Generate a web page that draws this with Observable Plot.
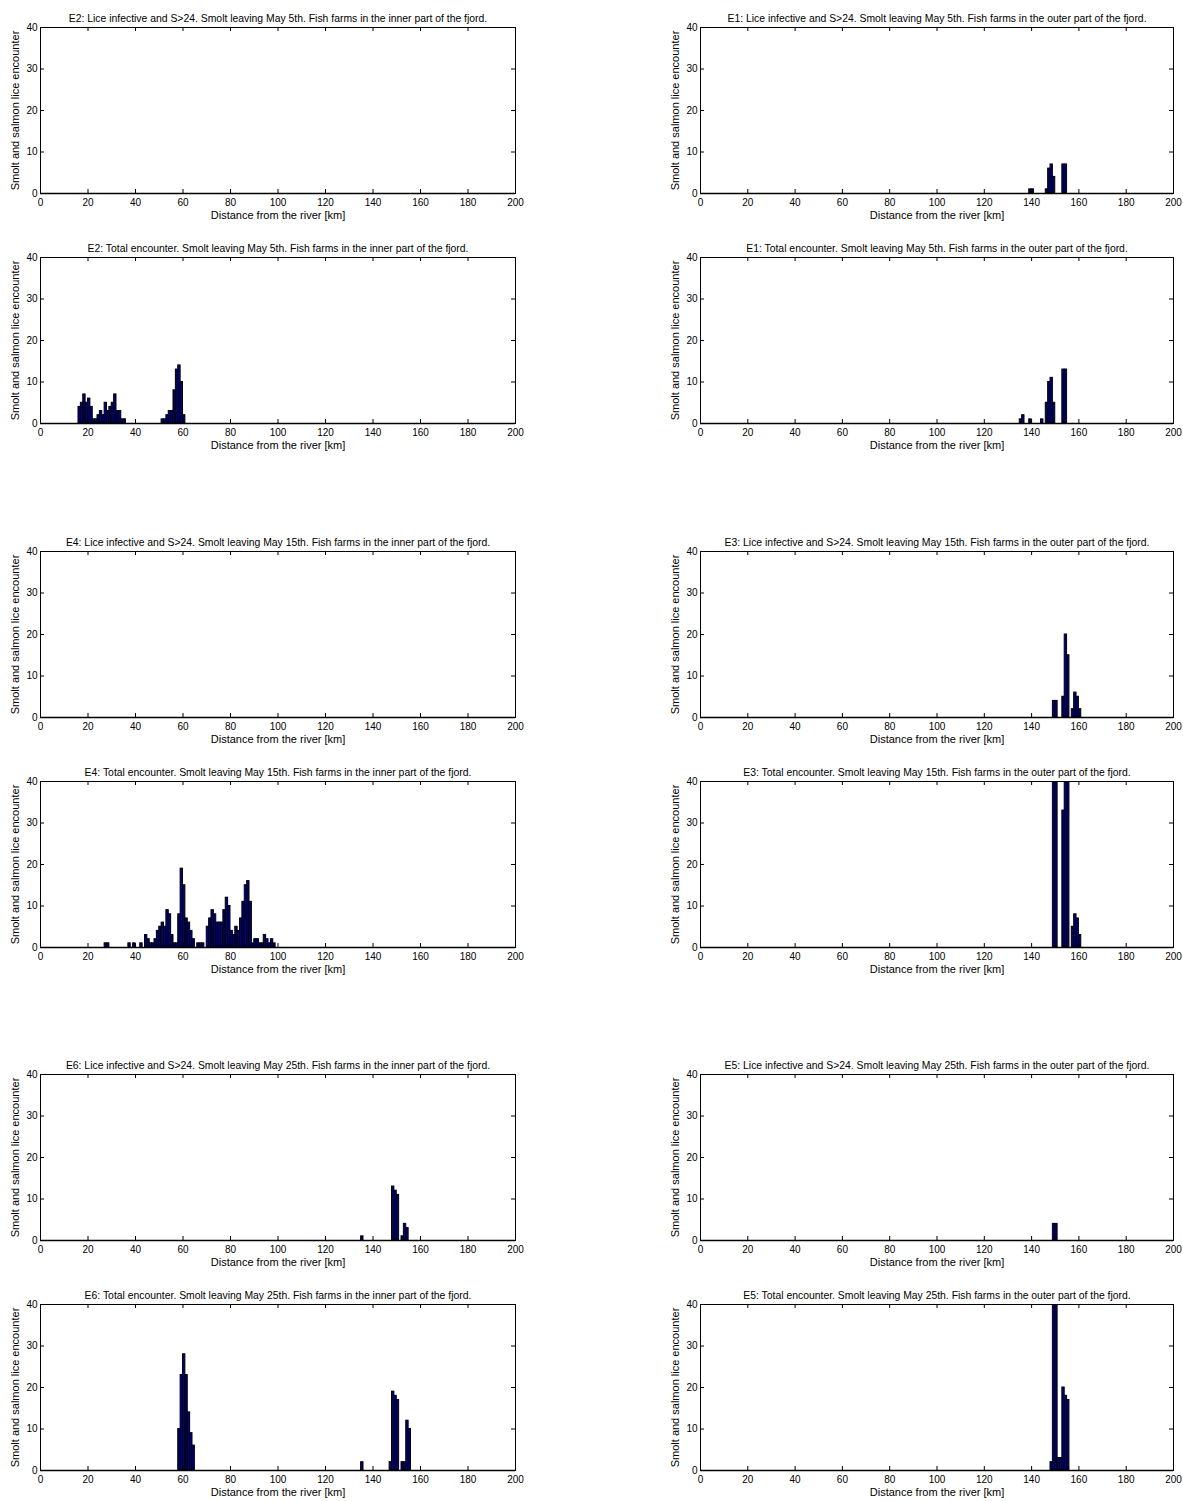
<!DOCTYPE html>
<html>
<head>
<meta charset="utf-8">
<script src="https://cdn.jsdelivr.net/npm/d3@7"></script>
<script src="https://cdn.jsdelivr.net/npm/@observablehq/plot@0.6"></script>
<style>
  body { margin: 0; background: #fff; }
  #root { position: relative; width: 1183px; height: 1501px; font-family: "Liberation Sans", Arial, sans-serif; }
  .panel { position: absolute; }
</style>
</head>
<body>
<div id="root"></div>
<script>
// ---- axis ticks and labels ----
const xTicks = [0, 20, 40, 60, 80, 100, 120, 140, 160, 180, 200];
const yTicks = [0, 10, 20, 30, 40];
const xLabel = "Distance from the river [km]";
const yLabel = "Smolt and salmon lice encounter";

// ---- titles ----
const titles = [
  "E2: Lice infective and S>24. Smolt leaving May 5th. Fish farms in the inner part of the fjord.",
  "E1: Lice infective and S>24. Smolt leaving May 5th. Fish farms in the outer part of the fjord.",
  "E2: Total encounter. Smolt leaving May 5th. Fish farms in the inner part of the fjord.",
  "E1: Total encounter. Smolt leaving May 5th. Fish farms in the outer part of the fjord.",
  "E4: Lice infective and S>24. Smolt leaving May 15th. Fish farms in the inner part of the fjord.",
  "E3: Lice infective and S>24. Smolt leaving May 15th. Fish farms in the outer part of the fjord.",
  "E4: Total encounter. Smolt leaving May 15th. Fish farms in the inner part of the fjord.",
  "E3: Total encounter. Smolt leaving May 15th. Fish farms in the outer part of the fjord.",
  "E6: Lice infective and S>24. Smolt leaving May 25th. Fish farms in the inner part of the fjord.",
  "E5: Lice infective and S>24. Smolt leaving May 25th. Fish farms in the outer part of the fjord.",
  "E6: Total encounter. Smolt leaving May 25th. Fish farms in the inner part of the fjord.",
  "E5: Total encounter. Smolt leaving May 25th. Fish farms in the outer part of the fjord."
];

// ---- data: bin start (km) and encounter count per 1 km bin ----
const e2LiceKm = [];
const e2LiceVal = [];

const e1LiceKm  = [139, 140, 146, 147, 148, 149, 153, 154];
const e1LiceVal = [1,   1,   1,   6,   7,   4,   7,   7];

const e2TotalKm  = [16, 17, 18, 19, 20, 21, 22, 23, 24, 25, 26, 27, 28, 29, 30, 31, 32, 33, 34, 35,
                    51, 52, 53, 54, 55, 56, 57, 58, 59, 60];
const e2TotalVal = [4,  5,  7,  5,  6,  4,  1,  1,  2,  3,  2,  5,  3,  4,  5,  7,  3,  3,  1,  1,
                    1,  1,  2,  3,  3,  8,  13, 14, 10, 2];

const e1TotalKm  = [135, 136, 139, 144, 146, 147, 148, 149, 153, 154];
const e1TotalVal = [1,   2,   1,   1,   5,   10,  11,  5,   13,  13];

const e4LiceKm = [];
const e4LiceVal = [];

const e3LiceKm  = [149, 150, 153, 154, 155, 157, 158, 159, 160];
const e3LiceVal = [4,   4,   5,   20,  15,  2,   6,   5,   2];

const e4TotalKm  = [27, 28, 37, 39, 42, 44, 45, 46, 47, 48, 49, 50, 51, 52, 53, 54, 55, 56, 57, 58,
                    59, 60, 61, 62, 63, 64, 66, 67, 68, 70, 71, 72, 73, 74, 75, 76, 77, 78, 79, 80,
                    81, 82, 83, 84, 85, 86, 87, 88, 89, 90, 91, 92, 93, 94, 95, 96, 97, 98];
const e4TotalVal = [1,  1,  1,  1,  1,  3,  2,  1,  1,  2,  4,  5,  6,  5,  9,  8,  3,  1,  1,  8,
                    19, 15, 7,  6,  4,  2,  1,  1,  1,  5,  7,  9,  8,  6,  6,  6,  9,  12, 10, 4,
                    3,  5,  4,  7,  11, 15, 16, 11, 1,  2,  2,  1,  1,  3,  2,  1,  2,  1];

const e3TotalKm  = [149, 150, 153, 154, 155, 157, 158, 159, 160];
const e3TotalVal = [48,  48,  33,  48,  48,  5,   8,   7,   3];

const e6LiceKm  = [135, 148, 149, 150, 152, 153, 154];
const e6LiceVal = [1,   13,  12,  11,  1,   4,   3];

const e5LiceKm  = [149, 150];
const e5LiceVal = [4,   4];

const e6TotalKm  = [58, 59, 60, 61, 62, 63, 64, 135, 147, 148, 149, 150, 152, 153, 154, 155];
const e6TotalVal = [10, 23, 28, 23, 14, 9,  6,  2,   2,   19,  18,  17,  2,   2,   12,  10];

const e5TotalKm  = [148, 149, 150, 151, 152, 153, 154, 155];
const e5TotalVal = [2,   48,  48,  3,   3,   20,  18,  17];

const panelKm  = [e2LiceKm, e1LiceKm, e2TotalKm, e1TotalKm, e4LiceKm, e3LiceKm,
                  e4TotalKm, e3TotalKm, e6LiceKm, e5LiceKm, e6TotalKm, e5TotalKm];
const panelVal = [e2LiceVal, e1LiceVal, e2TotalVal, e1TotalVal, e4LiceVal, e3LiceVal,
                  e4TotalVal, e3TotalVal, e6LiceVal, e5LiceVal, e6TotalVal, e5TotalVal];

// ---- layout ----
const frameTops = [27, 257, 551, 781, 1074, 1304];
const frameH = 166;
const marginTop = 27, marginBottom = 33;
const colLeft = [0, 660];
const colWidth = [540, 523];
const colMarginRight = [25, 10];
const marginLeft = 40;

const root = document.getElementById("root");

titles.forEach((title, i) => {
  const col = i % 2, row = Math.floor(i / 2);
  const W = colWidth[col];
  const mr = colMarginRight[col];
  const plotW = W - marginLeft - mr;
  const data = panelKm[i].map((k, j) => ({x1: k, x2: k + 1, v: panelVal[i][j]}));

  const chart = Plot.plot({
    width: W,
    height: marginTop + frameH + marginBottom,
    marginTop, marginBottom, marginLeft, marginRight: mr,
    x: {domain: [0, 200], ticks: xTicks, label: null},
    y: {domain: [0, 40], ticks: yTicks, label: null},
    style: {fontFamily: "'Liberation Sans', Arial, sans-serif", fontSize: "10px", background: "white", overflow: "visible", color: "black"},
    marks: [
      Plot.rect(data, {x1: "x1", x2: "x2", y1: 0, y2: "v", fill: "#000080", stroke: "black", strokeWidth: 1, clip: true}),
      Plot.ruleY([0], {stroke: "black", strokeWidth: 1.5}),
      Plot.frame({stroke: "black", strokeWidth: 1}),
      Plot.ruleX(xTicks, {x: d => d, insetTop: frameH - 4, stroke: "black"}),
      Plot.ruleX(xTicks, {x: d => d, insetBottom: frameH - 4, stroke: "black"}),
      Plot.ruleY(yTicks, {y: d => d, insetRight: plotW - 4, stroke: "black"}),
      Plot.ruleY(yTicks, {y: d => d, insetLeft: plotW - 4, stroke: "black"}),
      Plot.axisX({ticks: xTicks, tickSize: 0, tickPadding: 5, label: null, fontSize: 10}),
      Plot.axisY({ticks: yTicks, tickSize: 0, tickPadding: 3, label: null, fontSize: 10}),
      Plot.text([title], {text: d => d, frameAnchor: "top", dy: -6, lineAnchor: "bottom", fontSize: 10.4}),
      Plot.text([xLabel], {text: d => d, frameAnchor: "bottom", dy: 18, lineAnchor: "top", fontSize: 11}),
      Plot.text([yLabel], {text: d => d, frameAnchor: "left", textAnchor: "middle", dx: -25, rotate: -90, fontSize: 11})
    ]
  });

  const div = document.createElement("div");
  div.className = "panel";
  div.style.left = colLeft[col] + "px";
  div.style.top = (frameTops[row] - marginTop) + "px";
  div.appendChild(chart);
  root.appendChild(div);
});
</script>
</body>
</html>
